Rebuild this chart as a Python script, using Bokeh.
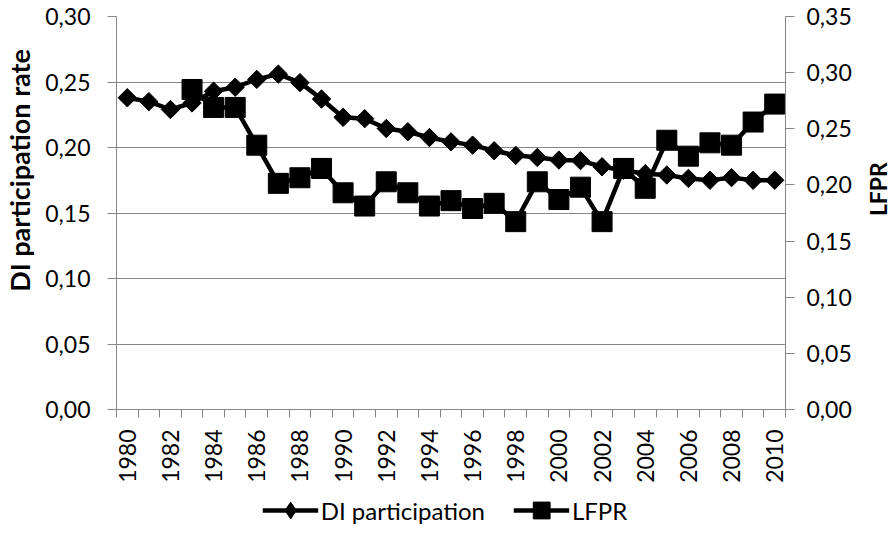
import math
from bokeh.plotting import figure
from bokeh.layouts import column, row
from bokeh.models import (Range1d, LinearAxis, FixedTicker, CustomJSTickFormatter,
                          Legend, LegendItem)
from bokeh.core.properties import value
from bokeh.embed import file_html
from bokeh.resources import INLINE

years = list(range(1980, 2011))
di_participation = [0.238, 0.235, 0.229, 0.234, 0.243, 0.246, 0.252, 0.256, 0.2495, 0.237,
                    0.223, 0.222, 0.2145, 0.212, 0.2076, 0.2043, 0.2018, 0.1975, 0.194, 0.1924,
                    0.1904, 0.190, 0.1853, 0.1827, 0.180, 0.179, 0.1764, 0.175, 0.177, 0.175, 0.175]
nan = float("nan")
lfpr = [nan, nan, nan, 0.285, 0.269, 0.269, 0.2354, 0.2014, 0.2064, 0.2147,
        0.193, 0.1812, 0.2028, 0.193, 0.1812, 0.186, 0.179, 0.1836, 0.1673, 0.2028,
        0.187, 0.198, 0.1673, 0.2147, 0.197, 0.2398, 0.2256, 0.2375, 0.2354, 0.256, 0.272]
left_ticks = [0.0, 0.05, 0.10, 0.15, 0.20, 0.25, 0.30]
right_ticks = [0.0, 0.05, 0.10, 0.15, 0.20, 0.25, 0.30, 0.35]
year_labels = list(range(1980, 2011, 2))
series_names = ["DI participation", "LFPR"]
left_title = "DI participation rate"
right_title = "LFPR"

FONT = "Lato"
GRAY = "#868686"
FS = "23px"
H = 485


def side_label(width, text, x, y, size):
    f = figure(width=width, height=H, output_backend="svg", toolbar_location=None,
               x_range=Range1d(0, width), y_range=Range1d(H, 0), min_border=0)
    f.axis.visible = False
    f.grid.visible = False
    f.outline_line_color = None
    f.text(x=[x], y=[y], text=[text], angle=math.pi / 2, text_align="center",
           text_baseline="middle", text_font=value(FONT), text_font_size=size,
           text_font_style="bold", text_color="black")
    return f


pl = side_label(38, left_title, 19, 190, "27px")
pr = side_label(24, right_title, 10, 213, FS)

p = figure(width=829, height=H, output_backend="svg", toolbar_location=None,
           x_range=Range1d(1979.5, 2010.5), y_range=Range1d(0, 0.30),
           min_border_left=78, min_border_right=82, min_border_top=16, min_border_bottom=75)
p.extra_y_ranges = {"right": Range1d(0, 0.35)}
p.outline_line_color = None
p.background_fill_color = "white"
p.border_fill_color = "white"

fmt = CustomJSTickFormatter(code="return tick.toFixed(2).replace('.', ',');")

# x axis
xa = p.xaxis[0]
xa.ticker = FixedTicker(ticks=year_labels, minor_ticks=[y - 0.5 for y in years] + [2010.5])
xa.formatter = CustomJSTickFormatter(code="return tick.toFixed(0);")
xa.major_tick_line_color = None
xa.minor_tick_line_color = GRAY
xa.minor_tick_out = 8
xa.minor_tick_in = 0
xa.axis_line_color = GRAY
xa.major_label_orientation = math.pi / 2
xa.major_label_standoff = 12
xa.major_label_text_font = FONT
xa.major_label_text_font_size = FS
xa.major_label_text_color = "black"

# left axis
ya = p.yaxis[0]
ya.ticker = FixedTicker(ticks=left_ticks)
ya.formatter = fmt
ya.axis_line_color = GRAY
ya.major_tick_line_color = GRAY
ya.major_tick_out = 9
ya.major_tick_in = 0
ya.minor_tick_line_color = None
ya.major_label_standoff = 17
ya.major_label_text_font = FONT
ya.major_label_text_font_size = FS
ya.major_label_text_color = "black"

# right axis
ra = LinearAxis(y_range_name="right", ticker=FixedTicker(ticks=right_ticks), formatter=fmt)
ra.axis_line_color = GRAY
ra.major_tick_line_color = GRAY
ra.major_tick_out = 9
ra.major_tick_in = 0
ra.minor_tick_line_color = None
ra.major_label_standoff = 12
ra.major_label_text_font = FONT
ra.major_label_text_font_size = FS
ra.major_label_text_color = "black"
p.add_layout(ra, "right")

p.xgrid.visible = False
p.ygrid.ticker = FixedTicker(ticks=left_ticks)
p.ygrid.grid_line_color = GRAY
p.ygrid.grid_line_width = 1

# series
p.line(years, di_participation, line_color="black", line_width=4.5, line_join="round")
p.scatter(years, di_participation, marker="square", angle=math.pi / 4, size=13,
          fill_color="black", line_color="black")
p.line(years, lfpr, line_color="black", line_width=4.5, line_join="round",
       y_range_name="right")
p.scatter(years, lfpr, marker="square", size=20, fill_color="black",
          line_color="black", y_range_name="right")

# legend strip
p2 = figure(width=889, height=50, output_backend="svg", toolbar_location=None,
            x_range=Range1d(0, 1), y_range=Range1d(0, 1), min_border=0)
p2.axis.visible = False
p2.grid.visible = False
p2.outline_line_color = None
l1 = p2.line([-5, -4], [-5, -5], line_color="black", line_width=4.5)
m1 = p2.scatter([-5], [-5], marker="diamond", size=16, fill_color="black", line_color="black")
l2 = p2.line([-5, -4], [-5, -5], line_color="black", line_width=4.5)
m2 = p2.scatter([-5], [-5], marker="square", size=16, fill_color="black", line_color="black")
legend = Legend(items=[LegendItem(label=series_names[0], renderers=[l1, m1]),
                       LegendItem(label=series_names[1], renderers=[l2, m2])],
                orientation="horizontal", location="center",
                glyph_width=56, glyph_height=42, label_standoff=3, spacing=28,
                padding=0, margin=0, border_line_color=None, background_fill_alpha=0,
                label_text_font=FONT, label_text_font_size="24px", label_text_color="black")
p2.add_layout(legend)

layout = column(row(pl, p, pr, spacing=0), p2, spacing=0)
open("out.html", "w").write(file_html(layout, INLINE))
